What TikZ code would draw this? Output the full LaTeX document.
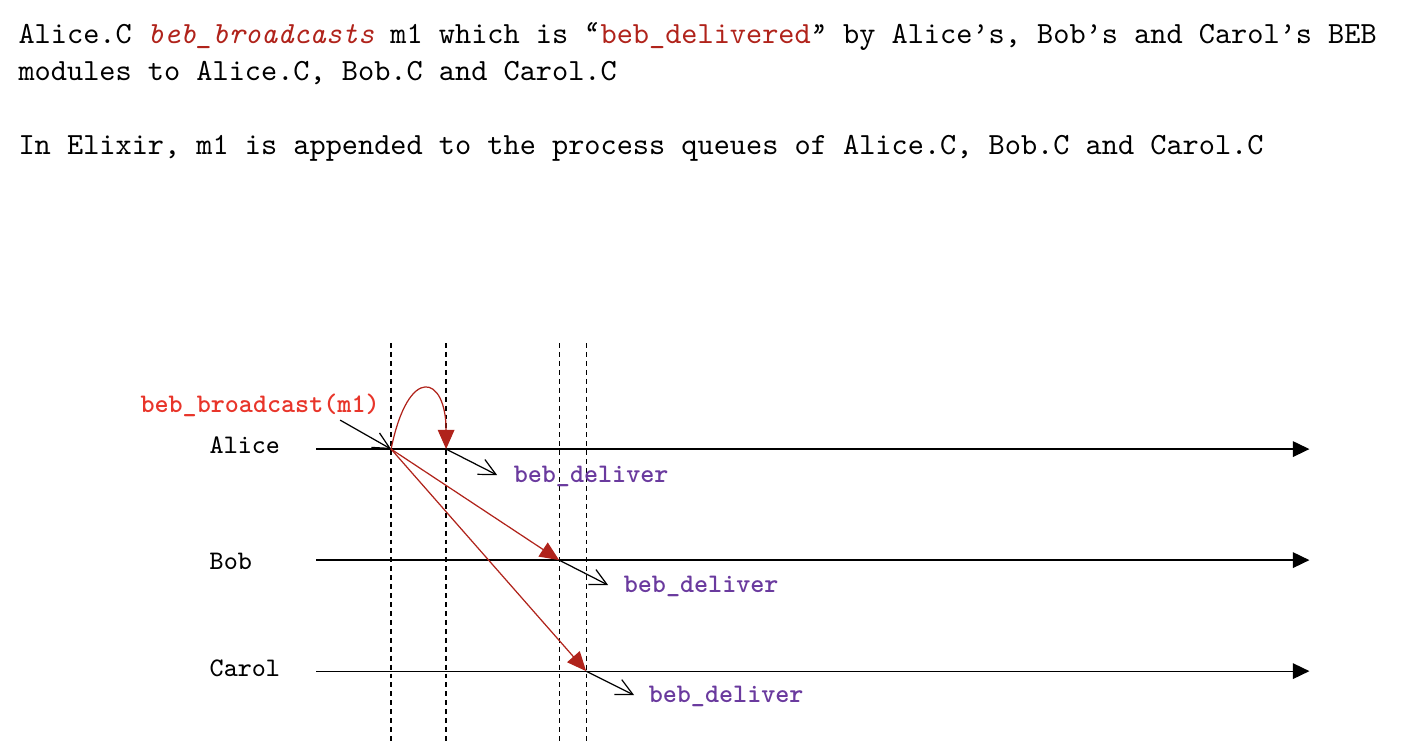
\documentclass[tikz,border=0pt]{standalone}
\usetikzlibrary{arrows.meta}
\definecolor{bebred}{HTML}{B0231B}
\definecolor{callred}{HTML}{E8352A}
\definecolor{delpurple}{HTML}{6A3A9E}
\newcommand\oq{\makebox[0.525em]{‘\kern-0.38em‘}}
\newcommand\cq{\makebox[0.525em]{’\kern-0.38em’}}
\begin{document}
\begin{tikzpicture} [lane/.style={-{Triangle[length=1.9mm,width=1.8mm]}},
    msg/.style={bebred, -{Triangle[length=2.2mm,width=1.9mm]}},
    call/.style={-{Straight Barb[length=1.9mm,width=1.9mm]}},
    tick/.style={dash pattern=on 1.6pt off 1.3pt},
    lbl/.style={font=\fontsize{8.7}{10.4}\selectfont\ttfamily, inner sep=0pt, anchor=west}]
    \useasboundingbox (0, 0) rectangle (16, 8.584);
    \node[anchor=base west, inner sep=0pt, font=\ttfamily] (t1) at (0.205, 8.082) {Alice.C {\color{bebred}\itshape beb\_broadcasts} m1 which is \oq{\color{bebred}beb\_delivered}\cq{} by Alice’s, Bob’s and Carol’s BEB};
    \node[anchor=base west, inner sep=0pt, font=\ttfamily] (t2) at (0.205, 7.660) {modules to Alice.C, Bob.C and Carol.C};
    \node[anchor=base west, inner sep=0pt, font=\ttfamily] (t3) at (0.205, 6.816) {In Elixir, m1 is appended to the process queues of Alice.C, Bob.C and Carol.C};
    \node[lbl] (alice) at (2.386, 3.505) {Alice};
    \node[lbl] (bob) at (2.386, 2.180) {Bob};
    \node[lbl] (carol) at (2.386, 0.959) {Carol};
    \coordinate (a0) at (3.607, 3.459);
    \coordinate (a1) at (14.943, 3.459);
    \coordinate (b0) at (3.607, 2.192);
    \coordinate (b1) at (14.943, 2.192);
    \coordinate (c0) at (3.607, 0.925);
    \coordinate (c1) at (14.943, 0.925);
    \draw[tick] (4.463, 4.669) -- (4.463, 0.114);
    \draw[tick] (5.091, 4.669) -- (5.091, 0.114);
    \draw[tick] (6.381, 4.669) -- (6.381, 0.114);
    \draw[tick] (6.689, 4.669) -- (6.689, 0.114);
    \draw[lane] (a0) -- (a1);
    \draw[lane] (b0) -- (b1);
    \draw[lane] (c0) -- (c1);
    \coordinate (bc) at (4.463, 3.459);
    \coordinate (da) at (5.091, 3.459);
    \coordinate (db) at (6.381, 2.192);
    \coordinate (dc) at (6.689, 0.925);
    \node[lbl, anchor=center, font=\fontsize{8.7}{10.4}\selectfont\ttfamily\bfseries, text=callred] (bcl) at (2.968, 3.961) {beb\_broadcast(m1)};
    \coordinate (bcin) at (3.881, 3.790);
    \draw[call] (bcin) -- (bc);
    \draw[msg] (bc) .. controls +(0.2, 0.98) and +(0, 0.84) .. (da);
    \draw[msg] (bc) -- (db);
    \draw[msg] (bc) -- (dc);
    \node[lbl, font=\fontsize{8.7}{10.4}\selectfont\ttfamily\bfseries, text=delpurple] (dla) at (5.856, 3.151) {beb\_deliver};
    \node[lbl, font=\fontsize{8.7}{10.4}\selectfont\ttfamily\bfseries, text=delpurple] (dlb) at (7.112, 1.895) {beb\_deliver};
    \node[lbl, font=\fontsize{8.7}{10.4}\selectfont\ttfamily\bfseries, text=delpurple] (dlc) at (7.397, 0.639) {beb\_deliver};
    \coordinate (ea) at (5.674, 3.162);
    \coordinate (eb) at (6.941, 1.906);
    \coordinate (ec) at (7.237, 0.651);
    \draw[call] (da) -- (ea);
    \draw[call] (db) -- (eb);
    \draw[call] (dc) -- (ec);
    \end{tikzpicture}
\end{document}
